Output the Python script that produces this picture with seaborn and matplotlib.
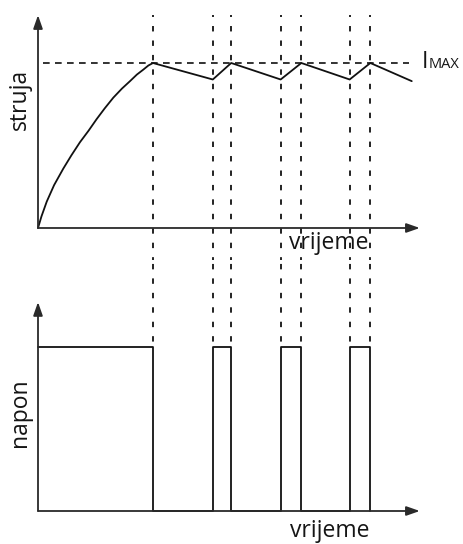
import pandas as pd
import seaborn as sns
import matplotlib.pyplot as plt

# switching instants (same time units on both panels)
switch_t = [10.0, 15.2, 16.8, 21.1, 22.9, 27.1, 28.9]

# current: charging curve then ripple around IMAX
current_t = [0, 0.3, 0.76, 1.4, 2.2, 2.9, 3.65, 4.4, 5.1, 5.8, 6.55, 7.3, 8.0, 8.6, 9.16, 9.6, 10.0,
             15.2, 16.8, 21.1, 22.9, 27.1, 28.9, 32.5]
current_i = [0, 0.07, 0.16, 0.26, 0.36, 0.44, 0.52, 0.59, 0.66, 0.725, 0.79, 0.845, 0.89, 0.93, 0.96,
             0.985, 1.0, 0.9, 1.0, 0.9, 1.0, 0.9, 1.0, 0.89]

# voltage: on/off pulses
volt_t = [0, 10.0, 15.2, 16.8, 21.1, 22.9, 27.1, 28.9]
volt_v = [1, 0, 1, 0, 1, 0, 1, 0]

i_max = 1.0
t_axis_end = 33.2

LINE = "#111111"
AXIS = "#2a2a2a"
TEXT = "#151515"


def draw_axes_arrows(ax, ytop):
    arrow = dict(arrowstyle="-|>,head_length=0.8,head_width=0.28", lw=1.3,
                 color=AXIS, shrinkA=0, shrinkB=0)
    ax.annotate("", xy=(t_axis_end, 0), xytext=(0, 0), arrowprops=arrow,
                annotation_clip=False)
    ax.annotate("", xy=(0, ytop), xytext=(0, 0), arrowprops=arrow,
                annotation_clip=False)


def main():
    sns.set_style("white")
    plt.rcParams["font.family"] = ["Open Sans", "DejaVu Sans"]

    fig = plt.figure(figsize=(4.63, 5.44), dpi=100)
    ax_i = fig.add_axes([0, 1 - 260 / 544, 1, 260 / 544])
    ax_v = fig.add_axes([0, 0, 1, 284 / 544])

    xlim = (-38 / 11.5, 425 / 11.5)

    # ---- current panel ----
    df_i = pd.DataFrame({"t": current_t, "i": current_i})
    sns.lineplot(data=df_i, x="t", y="i", ax=ax_i, color=LINE, lw=1.3,
                 estimator=None, sort=False)
    ax_i.hlines(i_max, 0.43, 32.3, colors=LINE, lw=1.2, linestyles=(0, (4.0, 3.2)))
    ax_i.vlines(switch_t, -0.3, 1.291, colors=LINE, lw=1.3, linestyles=(0, (3.0, 5.0)))
    draw_axes_arrows(ax_i, 1.29)
    ax_i.set_xlim(*xlim)
    ax_i.set_ylim(-0.194, 228 / 165)

    ax_i.text(-1.57, 0.78, "struja", rotation=90, ha="center", va="center",
              fontsize=16.5, color=TEXT)
    ax_i.text(25.3, -0.127, "vrijeme", ha="center", va="baseline", fontsize=16.5, color=TEXT)
    ax_i.text(33.35, 0.97, "I", ha="left", va="baseline", fontsize=16.5, color=TEXT)
    ax_i.text(33.95, 0.97, "MAX", ha="left", va="baseline", fontsize=10.5, color=TEXT)

    # ---- voltage panel ----
    df_v = pd.DataFrame({"t": volt_t, "v": volt_v})
    sns.lineplot(data=df_v, x="t", y="v", ax=ax_v, color=LINE, lw=1.3,
                 estimator=None, drawstyle="steps-post")
    ax_v.vlines(switch_t, 1.0, 1.6, colors=LINE, lw=1.3, linestyles=(5, (3.0, 5.0)))
    draw_axes_arrows(ax_v, 1.274)
    ax_v.set_xlim(*xlim)
    ax_v.set_ylim(-33 / 164, 251 / 164)

    ax_v.text(-1.57, 0.60, "napon", rotation=90, ha="center", va="center",
              fontsize=16.5, color=TEXT)
    ax_v.text(25.4, -0.160, "vrijeme", ha="center", va="baseline", fontsize=16.5, color=TEXT)

    for ax in (ax_i, ax_v):
        ax.set_axis_off()

    fig.savefig("out.png", dpi=100)


main()
